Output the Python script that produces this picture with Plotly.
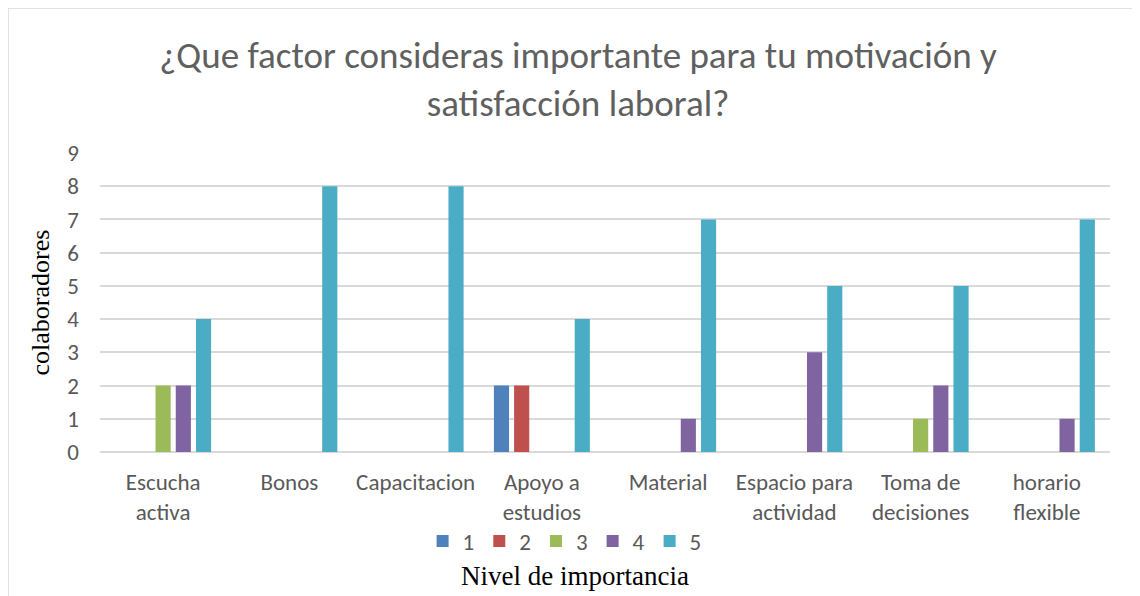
import plotly.graph_objects as go

categories = ["Escucha<br>activa", "Bonos", "Capacitacion", "Apoyo a<br>estudios", "Material",
              "Espacio para<br>actividad", "Toma de<br>decisiones", "horario<br>flexible"]
series_names = ["1", "2", "3", "4", "5"]
s1 = [0, 0, 0, 2, 0, 0, 0, 0]
s2 = [0, 0, 0, 2, 0, 0, 0, 0]
s3 = [2, 0, 0, 0, 0, 0, 1, 0]
s4 = [2, 0, 0, 0, 1, 3, 2, 1]
s5 = [4, 8, 8, 4, 7, 5, 5, 7]
colors = ["#4F81BD", "#C0504D", "#9BBB59", "#8064A2", "#4BACC6"]

fig = go.Figure()
for name, vals, c in zip(series_names, [s1, s2, s3, s4, s5], colors):
    fig.add_trace(go.Bar(name=name, x=categories, y=vals, marker_color=c, marker_line_width=0))

font_sans = "Carlito, Calibri, Liberation Sans, sans-serif"
font_serif = "Liberation Serif, Times New Roman, serif"

fig.update_layout(
    width=1140, height=596,
    margin=dict(l=92, r=38, t=145, b=152),
    paper_bgcolor="white", plot_bgcolor="white",
    barmode="group", bargap=0.2, bargroupgap=0.25,
    font=dict(family=font_sans, color="#595959", size=23),
    title=dict(text="¿Que factor consideras importante para tu motivación y<br>satisfacción laboral?",
               x=0.5, xanchor="center", y=0.899, yanchor="middle",
               font=dict(size=37, color="#606060", family=font_sans)),
    showlegend=True,
    legend=dict(orientation="h", x=0.46, xanchor="center", y=-0.298, yanchor="middle",
                font=dict(size=23, color="#595959"), itemwidth=30, traceorder="normal"),
    xaxis=dict(showgrid=False, showline=False, ticks="", tickfont=dict(size=23, color="#595959"),
               ticklabelstandoff=14),
    yaxis=dict(range=[0, 9], dtick=1, showgrid=True, gridcolor="#D9D9D9", gridwidth=1.5,
               zeroline=True, zerolinecolor="#D9D9D9", zerolinewidth=1.5, showline=False,
               ticks="", tickfont=dict(size=23, color="#595959"), ticklabelstandoff=20),
    annotations=[
        dict(text="Nivel de importancia", x=0.47, xref="paper", y=-0.415, yref="paper",
             xanchor="center", yanchor="middle", showarrow=False,
             font=dict(family=font_serif, size=27, color="black")),
        dict(text="colaboradores", x=-0.0594, xref="paper", y=0.5, yref="paper",
             xanchor="center", yanchor="middle", showarrow=False, textangle=-90,
             font=dict(family=font_serif, size=26, color="black")),
    ],
    shapes=[dict(type="rect", xref="paper", yref="paper", x0=-0.0911, x1=1.0238, y0=-0.6, y1=1.485,
                 line=dict(color="#D9D9D9", width=1.5), fillcolor="rgba(0,0,0,0)")],
)

fig.write_html("out.html")
